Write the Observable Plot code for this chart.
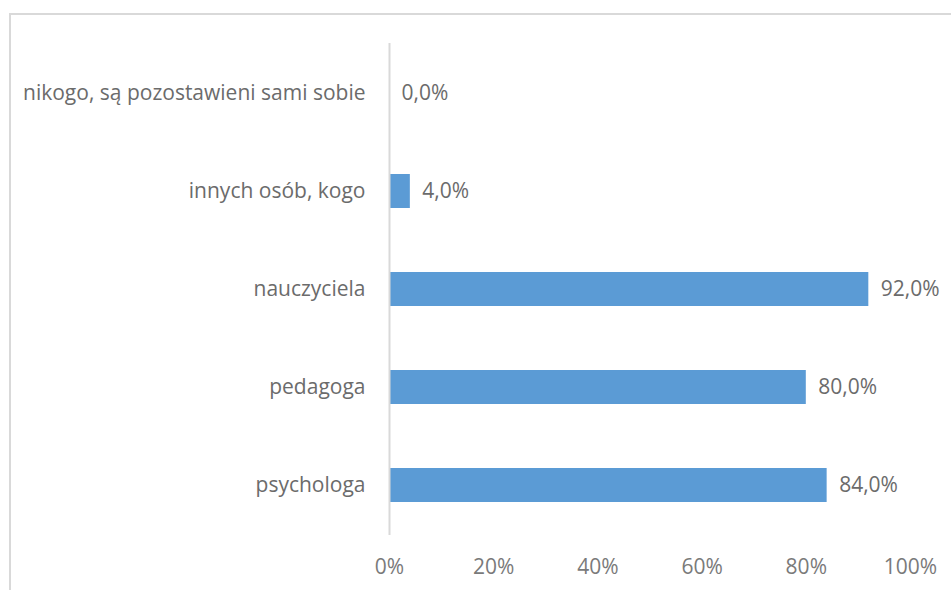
<!DOCTYPE html>
<html>
<head>
<meta charset="utf-8">
<script src="https://cdn.jsdelivr.net/npm/d3@7"></script>
<script src="https://cdn.jsdelivr.net/npm/@observablehq/plot@0.6"></script>
<style>
  html, body { margin: 0; padding: 0; background: #fff; overflow: hidden; }
  #wrap { position: relative; width: 951px; height: 590px; }
  #border { position: absolute; left: 9px; top: 13px; width: 960px; height: 600px; border: 2px solid #d9d9d9; box-sizing: border-box; }
  #chart { position: absolute; left: 0; top: 0; }
</style>
</head>
<body>
<div id="wrap"><div id="border"></div><div id="chart"></div></div>
<script>
const categories = ["nikogo, są pozostawieni sami sobie", "innych osób, kogo", "nauczyciela", "pedagoga", "psychologa"];
const values = [0.0, 4.0, 92.0, 80.0, 84.0];
const xTicks = [0, 20, 40, 60, 80, 100];

const data = categories.map((c, i) => ({category: c, value: values[i] / 100}));
const fmt = v => (v * 100).toFixed(1).replace(".", ",") + "%";

const chart = Plot.plot({
  width: 951,
  height: 590,
  marginLeft: 389,
  marginRight: 41,
  marginTop: 43,
  marginBottom: 55,
  style: {fontFamily: "'Open Sans', Lato, sans-serif", fontSize: "21px", color: "#666", background: "transparent"},
  x: {domain: [0, 1], axis: null},
  y: {domain: categories, paddingInner: 0.655, paddingOuter: 0.3275, axis: null},
  marks: [
    Plot.barX(data, {x: "value", y: "category", fill: "#5b9bd5"}),
    Plot.ruleX([0], {stroke: "#d9d9d9", strokeWidth: 2}),
    Plot.axisY({tickSize: 0, tickPadding: 24, fontSize: 21, fill: "#6b6b6b", label: null}),
    Plot.axisX({ticks: xTicks.map(t => t / 100), tickFormat: d => Math.round(d * 100) + "%", tickSize: 0, tickPadding: 24, fontSize: 21, fill: "#7a7a7a", label: null}),
    Plot.text(data, {x: "value", y: "category", text: d => fmt(d.value), textAnchor: "start", dx: 12, fontSize: 21, fill: "#6b6b6b"})
  ]
});
document.getElementById("chart").appendChild(chart);
</script>
</body>
</html>
